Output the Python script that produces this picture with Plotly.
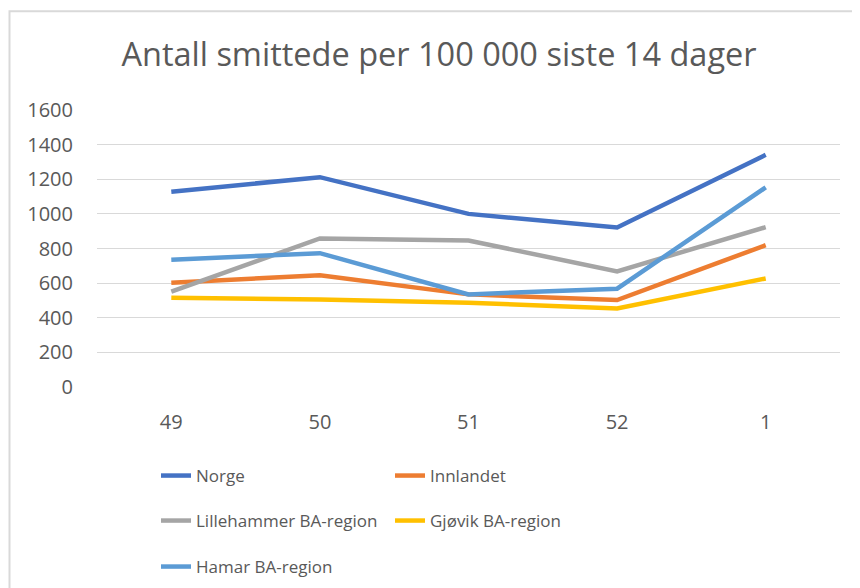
import plotly.graph_objects as go

weeks = ["49", "50", "51", "52", "1"]
norge = [1128, 1212, 1000, 921, 1341]
innlandet = [602, 646, 535, 502, 819]
lillehammer = [551, 858, 846, 668, 923]
gjovik = [516, 506, 487, 454, 627]
hamar = [735, 773, 535, 568, 1153]

series = [
    ("Norge", norge, "#4472C4", "legend"),
    ("Innlandet", innlandet, "#ED7D31", "legend"),
    ("Lillehammer BA-region", lillehammer, "#A5A5A5", "legend2"),
    ("Gjøvik BA-region", gjovik, "#FFC000", "legend2"),
    ("Hamar BA-region", hamar, "#5B9BD5", "legend3"),
]

FONT = "Open Sans"
TXT = "#595959"
W, H = 860, 588
OFF = 8  # page body margin
L, T = 97 - OFF, 110 - OFF
R, B = W - (840 - OFF), H - (388 - OFF)
pw, ph = W - L - R, H - T - B

fig = go.Figure()
for name, vals, color, lg in series:
    fig.add_trace(go.Scatter(x=weeks, y=vals, name=name, mode="lines",
                             line=dict(color=color, width=4.5), legend=lg))

def px2x(p):
    return (p - L) / pw

def py2y(p):
    return (H - B - p) / ph

leg_common = dict(orientation="h", xanchor="left", yanchor="middle",
                  font=dict(family=FONT, size=17, color=TXT),
                  entrywidth=189, entrywidthmode="pixels",
                  bgcolor="rgba(0,0,0,0)", itemwidth=30)

fig.update_layout(
    width=W, height=H,
    margin=dict(l=L, r=R, t=T, b=B),
    paper_bgcolor="white", plot_bgcolor="white",
    title=dict(text="Antall smittede per 100 000 siste 14 dager",
               x=431 / W, xanchor="center", y=1 - 47 / H, yanchor="middle",
               font=dict(family=FONT, size=32.5, color=TXT)),
    xaxis=dict(type="category", range=[-0.5, 4.5], showgrid=False,
               showline=False, ticks="", zeroline=False,
               tickfont=dict(family=FONT, size=20, color=TXT), ticklabelstandoff=21),
    yaxis=dict(range=[0, 1600], dtick=200, showgrid=True, gridcolor="#D9D9D9",
               gridwidth=1.3, zeroline=False, showline=False, ticks="",
               tickfont=dict(family=FONT, size=20, color=TXT), ticklabelstandoff=23),
    legend=dict(x=px2x(148), y=py2y(468), **leg_common),
    legend2=dict(x=px2x(148), y=py2y(513), **leg_common),
    legend3=dict(x=px2x(148), y=py2y(559), **leg_common),
    showlegend=True,
)

fig.add_shape(type="rect", xref="paper", yref="paper",
              x0=px2x(9.5 - OFF), x1=px2x(W + 20), y0=py2y(11 - OFF), y1=py2y(H + 20),
              line=dict(color="#D9D9D9", width=2), fillcolor="rgba(0,0,0,0)", layer="below")

fig.write_html("out.html")
